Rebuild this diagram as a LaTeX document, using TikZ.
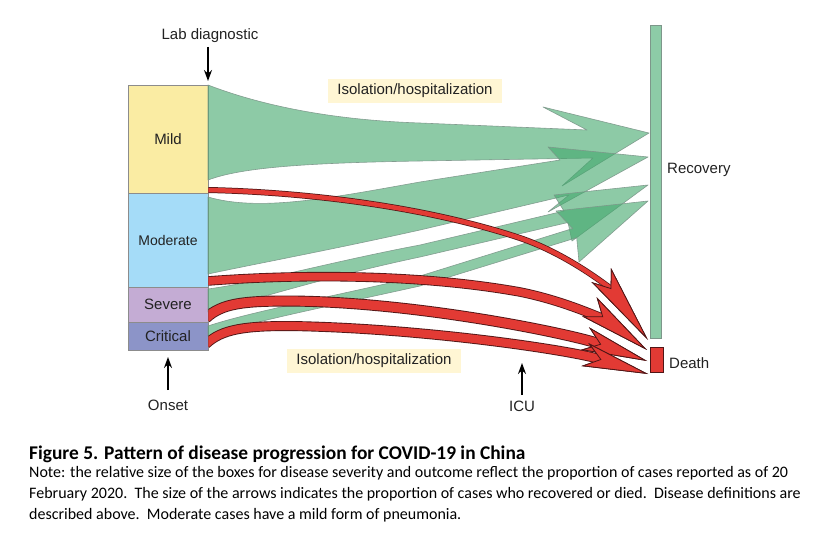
\documentclass[tikz,border=0pt]{standalone}
\usepackage{fontspec}
\setmainfont{Liberation Sans}
\newfontfamily\capfont{Carlito}
\usetikzlibrary{arrows.meta}
\definecolor{gfill}{RGB}{65,168,108}
\definecolor{gsolid}{RGB}{141,203,167}
\definecolor{gline}{RGB}{125,150,138}
\definecolor{rfill}{RGB}{226,58,52}
\definecolor{rline}{RGB}{80,22,22}
\definecolor{mildc}{RGB}{250,236,163}
\definecolor{modc}{RGB}{165,220,248}
\definecolor{sevc}{RGB}{196,172,212}
\definecolor{critc}{RGB}{140,148,200}
\definecolor{boxline}{RGB}{140,140,140}
\definecolor{labc}{RGB}{255,246,212}
\definecolor{txtc}{RGB}{34,34,34}
\begin{document}
\begin{tikzpicture}[x=1pt,y=-1pt,
  lbl/.style={text=txtc, font=\fontsize{15}{18}\selectfont, inner sep=0pt},
  sevbox/.style={draw=boxline, line width=0.8pt, minimum width=80pt, inner sep=0pt, text=txtc, font=\fontsize{15}{18}\selectfont},
  garrow/.style={fill=gfill, fill opacity=0.6, draw=gline, draw opacity=0.9, line width=0.6pt, line join=round},
  isolbl/.style={lbl, fill=labc, minimum width=174pt, minimum height=24pt},
  blk/.style={line width=1.5pt, -{Stealth[length=11pt,width=8pt]}},
  capt/.style={anchor=base west, inner sep=0pt, font=\capfont\fontsize{16}{19}\selectfont},
  redo/.style={draw=rline, -{Stealth[length=#1,width=24pt,inset=16pt,fill=rline,color=rline,line width=0.8pt]}},
  redi/.style={draw=rfill, -{Stealth[length=#1,width=24pt,inset=16pt,fill=rfill,color=rline,line width=0.8pt]}}
]
\fill[white] (0,0) rectangle (838,540);
\useasboundingbox (0,0) rectangle (838,540);

% severity boxes
\node[sevbox, fill=mildc, minimum height=108pt] (mild) at (168,139) {Mild};
\node[sevbox, fill=modc, minimum height=94pt, font=\fontsize{14}{16}\selectfont] (moderate) at (168,240) {Moderate};
\node[sevbox, fill=sevc, minimum height=35pt] (severe) at (168,304.5) {Severe};
\node[sevbox, fill=critc, minimum height=28pt] (critical) at (168,336) {Critical};

% outcomes
\node[draw=gline, fill=gsolid, minimum width=11pt, minimum height=313pt, inner sep=0pt, line width=0.6pt] (recovery) at (655.5,181.5) {};
\node[draw=rline, fill=rfill, minimum width=13pt, minimum height=25pt, inner sep=0pt, line width=0.8pt] (death) at (656.5,359.5) {};
\node[lbl, anchor=west] (reclbl) at (667,170) {Recovery};
\node[lbl, anchor=west] (deathlbl) at (669,363) {Death};

% green flows
\draw[garrow] (208,85) .. controls (260,105) and (330,120) .. (420,123) -- (587,130) -- (543,107) -- (649,133) -- (562,186) -- (593,158) -- (420,161) .. controls (300,163) and (240,168) .. (208,180) -- cycle;
\draw[garrow] (208,197) .. controls (260,212) and (330,198) .. (420,182) -- (560,160) -- (548,147) -- (648,157) -- (548,212) -- (569,195) -- (420,230) .. controls (330,250) and (260,263) .. (208,274) -- cycle;
\draw[garrow] (208,289) .. controls (260,282) and (330,262) .. (420,245) -- (564,211) -- (554,195) -- (648,185) -- (572,241) -- (568,222.5) -- (420,257) .. controls (330,276) and (260,298) .. (208,312) -- cycle;
\draw[garrow] (208,326) .. controls (250,312) and (330,297) .. (420,276) -- (572.7,228.5) -- (556,211) -- (648,201) -- (579,262) -- (576.7,237.7) -- (420,286) .. controls (330,306) and (250,322) .. (208,336) -- cycle;

% red flows
\coordinate (r1) at (648,340);
\coordinate (r2) at (647,350);
\coordinate (r3) at (647,361);
\coordinate (r4) at (648,374);
\begin{scope}
\clip (208.4,0) rectangle (838,540);
\draw[redo=80pt, line width=6pt] (208,190) .. controls (300,192) and (420,205) .. (520,238) .. controls (570,255) and (612,290) .. (r1);
\draw[redi=80pt, line width=4.5pt] (208,190) .. controls (300,192) and (420,205) .. (520,238) .. controls (570,255) and (612,290) .. (r1);
\draw[redo=72pt, line width=9.5pt] (208,281) .. controls (300,274) and (420,274) .. (520,292) .. controls (575,303) and (615,326) .. (r2);
\draw[redi=72pt, line width=7.8pt] (208,281) .. controls (300,274) and (420,274) .. (520,292) .. controls (575,303) and (615,326) .. (r2);
\draw[redo=66pt, line width=11pt] (206,318) .. controls (222,303) and (245,301) .. (290,301) .. controls (420,302) and (575,335) .. (r3);
\draw[redi=66pt, line width=9.2pt] (206,318) .. controls (222,303) and (245,301) .. (290,301) .. controls (420,302) and (575,335) .. (r3);
\draw[redo=66pt, line width=10pt] (206,344) .. controls (222,329) and (245,326) .. (290,326) .. controls (420,328) and (570,350) .. (r4);
\draw[redi=66pt, line width=8.2pt] (206,344) .. controls (222,329) and (245,326) .. (290,326) .. controls (420,328) and (570,350) .. (r4);
\end{scope}

% labels
\node[isolbl] (iso1) at (415,91) {Isolation/hospitalization};
\node[isolbl] (iso2) at (374,360.5) {Isolation/hospitalization};

\node[lbl] (lab) at (210,36) {Lab diagnostic};
\coordinate (labtip) at (208,81);
\draw[blk] (208,47) -- (labtip);

\node[lbl] (onset) at (168,405) {Onset};
\coordinate (onsettip) at (168,357);
\draw[blk] (168,390) -- (onsettip);

\node[lbl] (icu) at (522,406) {ICU};
\coordinate (icutip) at (522,363);
\draw[blk] (522,395) -- (icutip);

% caption
\node[capt, font=\capfont\bfseries\fontsize{19.4}{22}\selectfont] (title) at (29,459) {Figure 5. Pattern of disease progression for COVID-19 in China};
\node[capt] (n1) at (29,477) {Note: the relative size of the boxes for disease severity and outcome reflect the proportion of cases reported as of 20};
\node[capt] (n2) at (29,498) {February 2020.\ \ The size of the arrows indicates the proportion of cases who recovered or died.\ \ Disease definitions are};
\node[capt] (n3) at (29,519) {described above.\ \ Moderate cases have a mild form of pneumonia.};
\end{tikzpicture}
\end{document}
